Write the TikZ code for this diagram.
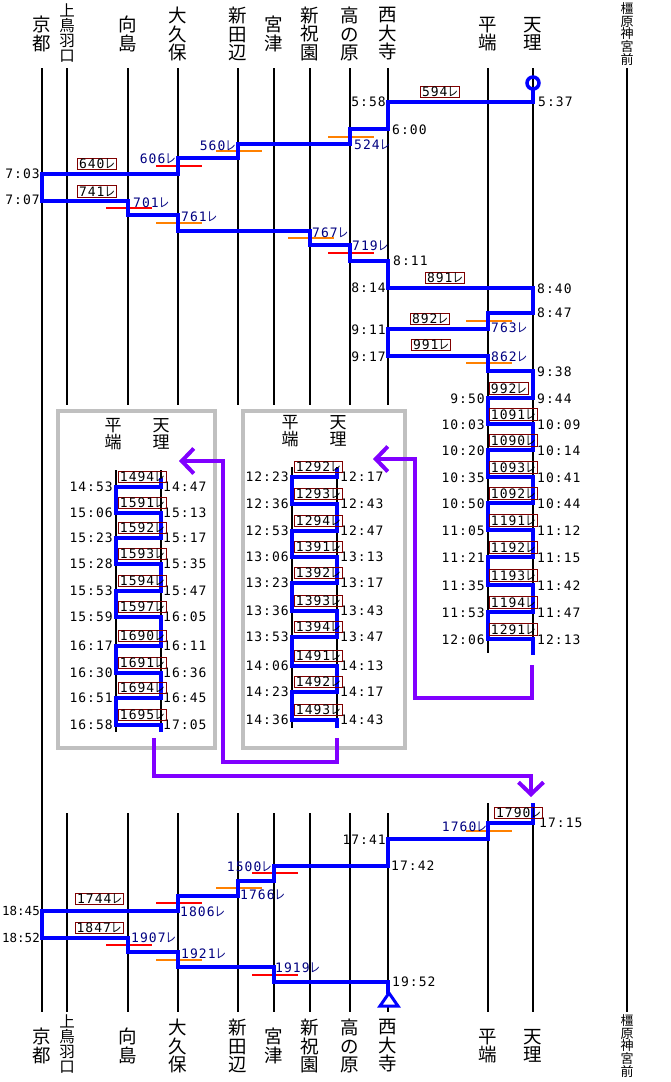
\documentclass[tikz,border=0pt]{standalone}
\usepackage{fontspec}
\usetikzlibrary{arrows.meta}
\newfontfamily\jp{Noto Sans CJK JP}
\newfontfamily\tm{DejaVu Sans Mono}[LetterSpace=8]
\newfontfamily\tmn{DejaVu Sans Mono}
\newcommand\re{\scalebox{0.8}[1]{\jp レ}}
\definecolor{kon}{RGB}{0,0,128}
\definecolor{akaw}{RGB}{128,0,0}
\definecolor{ore}{RGB}{255,128,0}
\definecolor{mura}{RGB}{128,0,255}
\definecolor{hai}{RGB}{192,192,192}
\begin{document}
\begin{tikzpicture}[x=1pt,y=-1pt,
    eki/.style={line width=2pt},
    unyo/.style={blue,line width=4pt},
    waku/.style={hai,line width=4pt},
    sen/.style={line width=1.2pt},
    yaji/.style={mura,line width=4pt,-{Straight Barb[length=12pt,width=25pt]}},
    mei/.style={font=\jp\fontsize{18.5}{18.5}\selectfont,align=center,inner sep=0pt},
    jikan/.style={font=\tm\fontsize{13}{13}\selectfont,inner sep=0pt,text height=9.5pt,text depth=0pt},
    semai/.style={jikan,font=\tmn\fontsize{12.5}{12.5}\selectfont},
    ao/.style={jikan,text=kon},
    ban/.style={jikan,draw=akaw,line width=0.8pt,inner xsep=1.5pt,inner ysep=1pt}]
    \useasboundingbox (0,0) rectangle (671,1082);

    % 枠
    \draw[waku] (58,411) rectangle (215,748);
    \draw[waku] (243,411) rectangle (405,748);

    % 駅の線
    \foreach \x in {42,627} \draw[eki] (\x,68) -- (\x,1012);
    \foreach \x in {67,128,178,238,274,310,350,388} {
        \draw[eki] (\x,68) -- (\x,405);
        \draw[eki] (\x,813) -- (\x,1012);
    }
    \foreach \x in {488,533} {
        \draw[eki] (\x,68) -- (\x,653);
        \draw[eki] (\x,803) -- (\x,1012);
    }
    \foreach \x in {116,161} \draw[eki] (\x,470) -- (\x,732);
    \foreach \x in {292,337} \draw[eki] (\x,467) -- (\x,728);

    % 駅名
    \foreach \x/\n [count=\i] in {42/{京\\都},128/{向\\島},178/{大\\久\\保},238/{新\\田\\辺},274/{宮\\津},310/{新\\祝\\園},350/{高\\の\\原},388/{西\\大\\寺},488/{平\\端},533/{天\\理}} {
        \node[mei] (ue\i) at (\x,34) {\n};
        \node[mei] (shita\i) at (\x,1046) {\n};
    }
    \node[mei,font=\jp\fontsize{15.5}{15}\selectfont] (ueT) at (67,33) {上\\鳥\\羽\\口};
    \node[mei,font=\jp\fontsize{15.5}{15}\selectfont] (shitaT) at (67,1044) {上\\鳥\\羽\\口};
    \node[mei,font=\jp\fontsize{13}{12.6}\selectfont] (ueK) at (627,34) {橿\\原\\神\\宮\\前};
    \node[mei,font=\jp\fontsize{13}{12.6}\selectfont] (shitaK) at (627,1046) {橿\\原\\神\\宮\\前};
    \foreach \x/\y [count=\i] in {113/434,290/431} {
        \node[mei,font=\jp\fontsize{17}{16.5}\selectfont] (wh\i) at (\x,\y) {平\\端};
        \node[mei,font=\jp\fontsize{17}{16.5}\selectfont] (wt\i) at (\x+48,\y) {天\\理};
    }

    % 下線
    \foreach \x/\y in {350/137,238/151,178/223,310/238,488/321,488/363,488/831,238/888,178/960}
        \draw[sen,ore] (\x-22,\y) -- (\x+24,\y);
    \foreach \x/\y in {178/166,128/208,350/253,274/873,178/903,128/945,274/975}
        \draw[sen,red] (\x-22,\y) -- (\x+24,\y);

    % 運用（上）
    \draw[unyo,line width=3.5pt] (533,83) circle[radius=6pt];
    \draw[unyo] (533,89) -- (533,102) -- (388,102) -- (388,129) -- (350,129) -- (350,144) -- (238,144) -- (238,158) -- (178,158) -- (178,174) -- (42,174) -- (42,201) -- (128,201) -- (128,215) -- (178,215) -- (178,231) -- (310,231) -- (310,245) -- (350,245) -- (350,261) -- (388,261) -- (388,288) -- (533,288) -- (533,313) -- (488,313) -- (488,329) -- (388,329) -- (388,356) -- (488,356) -- (488,371) -- (533,371)
        \foreach \a/\b in {398/424,450/477,503/530,557/585,612/639} { -- (533,\a) -- (488,\a) -- (488,\b) -- (533,\b) } -- (533,655);
    \draw[unyo] (337,468) \foreach \a/\b in {477/504,531/557,583/611,637/666,692/720} { -- (337,\a) -- (292,\a) -- (292,\b) -- (337,\b) } -- (337,728);
    \draw[unyo] (161,478) \foreach \a/\b in {487/513,538/564,591/617,646/673,698/725} { -- (161,\a) -- (116,\a) -- (116,\b) -- (161,\b) } -- (161,732);

    % 運用（下）
    \draw[unyo] (533,803) -- (533,823) -- (488,823) -- (488,839) -- (388,839) -- (388,866) -- (274,866) -- (274,881) -- (238,881) -- (238,896) -- (178,896) -- (178,911) -- (42,911) -- (42,938) -- (128,938) -- (128,952) -- (178,952) -- (178,967) -- (274,967) -- (274,982) -- (388,982) -- (388,994);
    \draw[unyo,line width=3pt,fill=white] (389,993) -- (380,1006) -- (398,1006) -- cycle;

    % つなぎの矢印
    \draw[yaji] (532,665) -- (532,698) -| (415,459) -- (373,459);
    \draw[yaji] (337,738) -- (337,762) -| (223,461) -- (179,461);
    \draw[yaji] (154,738) -- (154,776) -| (531,797);

    % 時刻
    \foreach \x/\y/\a/\t [count=\i] in {538/102/west/5:37,386/102/east/5:58,392/130/west/6:00,40/174/east/7:03,40/200/east/7:07,393/261/west/8:11,386/288/east/8:14,537/289/west/8:40,537/313/west/8:47,386/330/east/9:11,386/357/east/9:17,537/372/west/9:38,539/823/west/17:15,386/840/east/17:41,391/866/west/17:42,392/982/west/19:52}
        \node[jikan,anchor=\a] (jk\i) at (\x,\y) {\t};
    \node[semai,anchor=east] (jk1845) at (40,911) {18:45};
    \node[semai,anchor=east] (jk1852) at (40,938) {18:52};

    % 列車番号
    \foreach \x/\y/\n [count=\i] in {440/92/594,97/164/640,97/191.5/741,445/278/891,430/319/892,431/345/991,518.5/813/1790,99.5/899/1744,99/928/1847}
        \node[ban] (bn\i) at (\x,\y) {\n\re};
    \foreach \x/\y/\a/\n [count=\i] in {354/145/west/524,236/146/east/560,176/159/east/606,133/203/west/701,181/217/west/761,312/233/west/767,352/246/west/719,491/328/west/763,491/357/west/862,487/827/east/1760,272/867/east/1500,240/895/west/1766,180/912/west/1806,131/938/west/1907,181/954/west/1921,275/968/west/1919}
        \node[ao,anchor=\a] (ao\i) at (\x,\y) {\n\re};

    % 平端・天理の折返し
    \foreach \r/\hT/\tT/\nR [count=\i] in {398/9:50/9:44/992,424/10:03/10:09/1091,450/10:20/10:14/1090,477/10:35/10:41/1093,503/10:50/10:44/1092,530/11:05/11:12/1191,557/11:21/11:15/1192,585/11:35/11:42/1193,612/11:53/11:47/1194,639/12:06/12:13/1291} {
        \node[jikan,anchor=east] (aL\i) at (485,\r+1) {\hT};
        \node[jikan,anchor=west] (aR\i) at (537,\r+1) {\tT};
        \node[ban,anchor=west] (aB\i) at (489,\r-9.5) {\nR\re};
    }
    \foreach \r/\hT/\tT/\nR [count=\i] in {477/12:23/12:17/1292,504/12:36/12:43/1293,531/12:53/12:47/1294,557/13:06/13:13/1391,583/13:23/13:17/1392,611/13:36/13:43/1393,637/13:53/13:47/1394,666/14:06/14:13/1491,692/14:23/14:17/1492,720/14:36/14:43/1493} {
        \node[jikan,anchor=east] (bL\i) at (289,\r) {\hT};
        \node[jikan,anchor=west] (bR\i) at (340,\r) {\tT};
        \node[ban,anchor=west] (bB\i) at (294,\r-10) {\nR\re};
    }
    \foreach \r/\hT/\tT/\nR [count=\i] in {487/14:53/14:47/1494,513/15:06/15:13/1591,538/15:23/15:17/1592,564/15:28/15:35/1593,591/15:53/15:47/1594,617/15:59/16:05/1597,646/16:17/16:11/1690,673/16:30/16:36/1691,698/16:51/16:45/1694,725/16:58/17:05/1695} {
        \node[jikan,anchor=east] (cL\i) at (113,\r) {\hT};
        \node[jikan,anchor=west] (cR\i) at (163,\r) {\tT};
        \node[ban,anchor=west] (cB\i) at (118,\r-10) {\nR\re};
    }
\end{tikzpicture}
\end{document}
